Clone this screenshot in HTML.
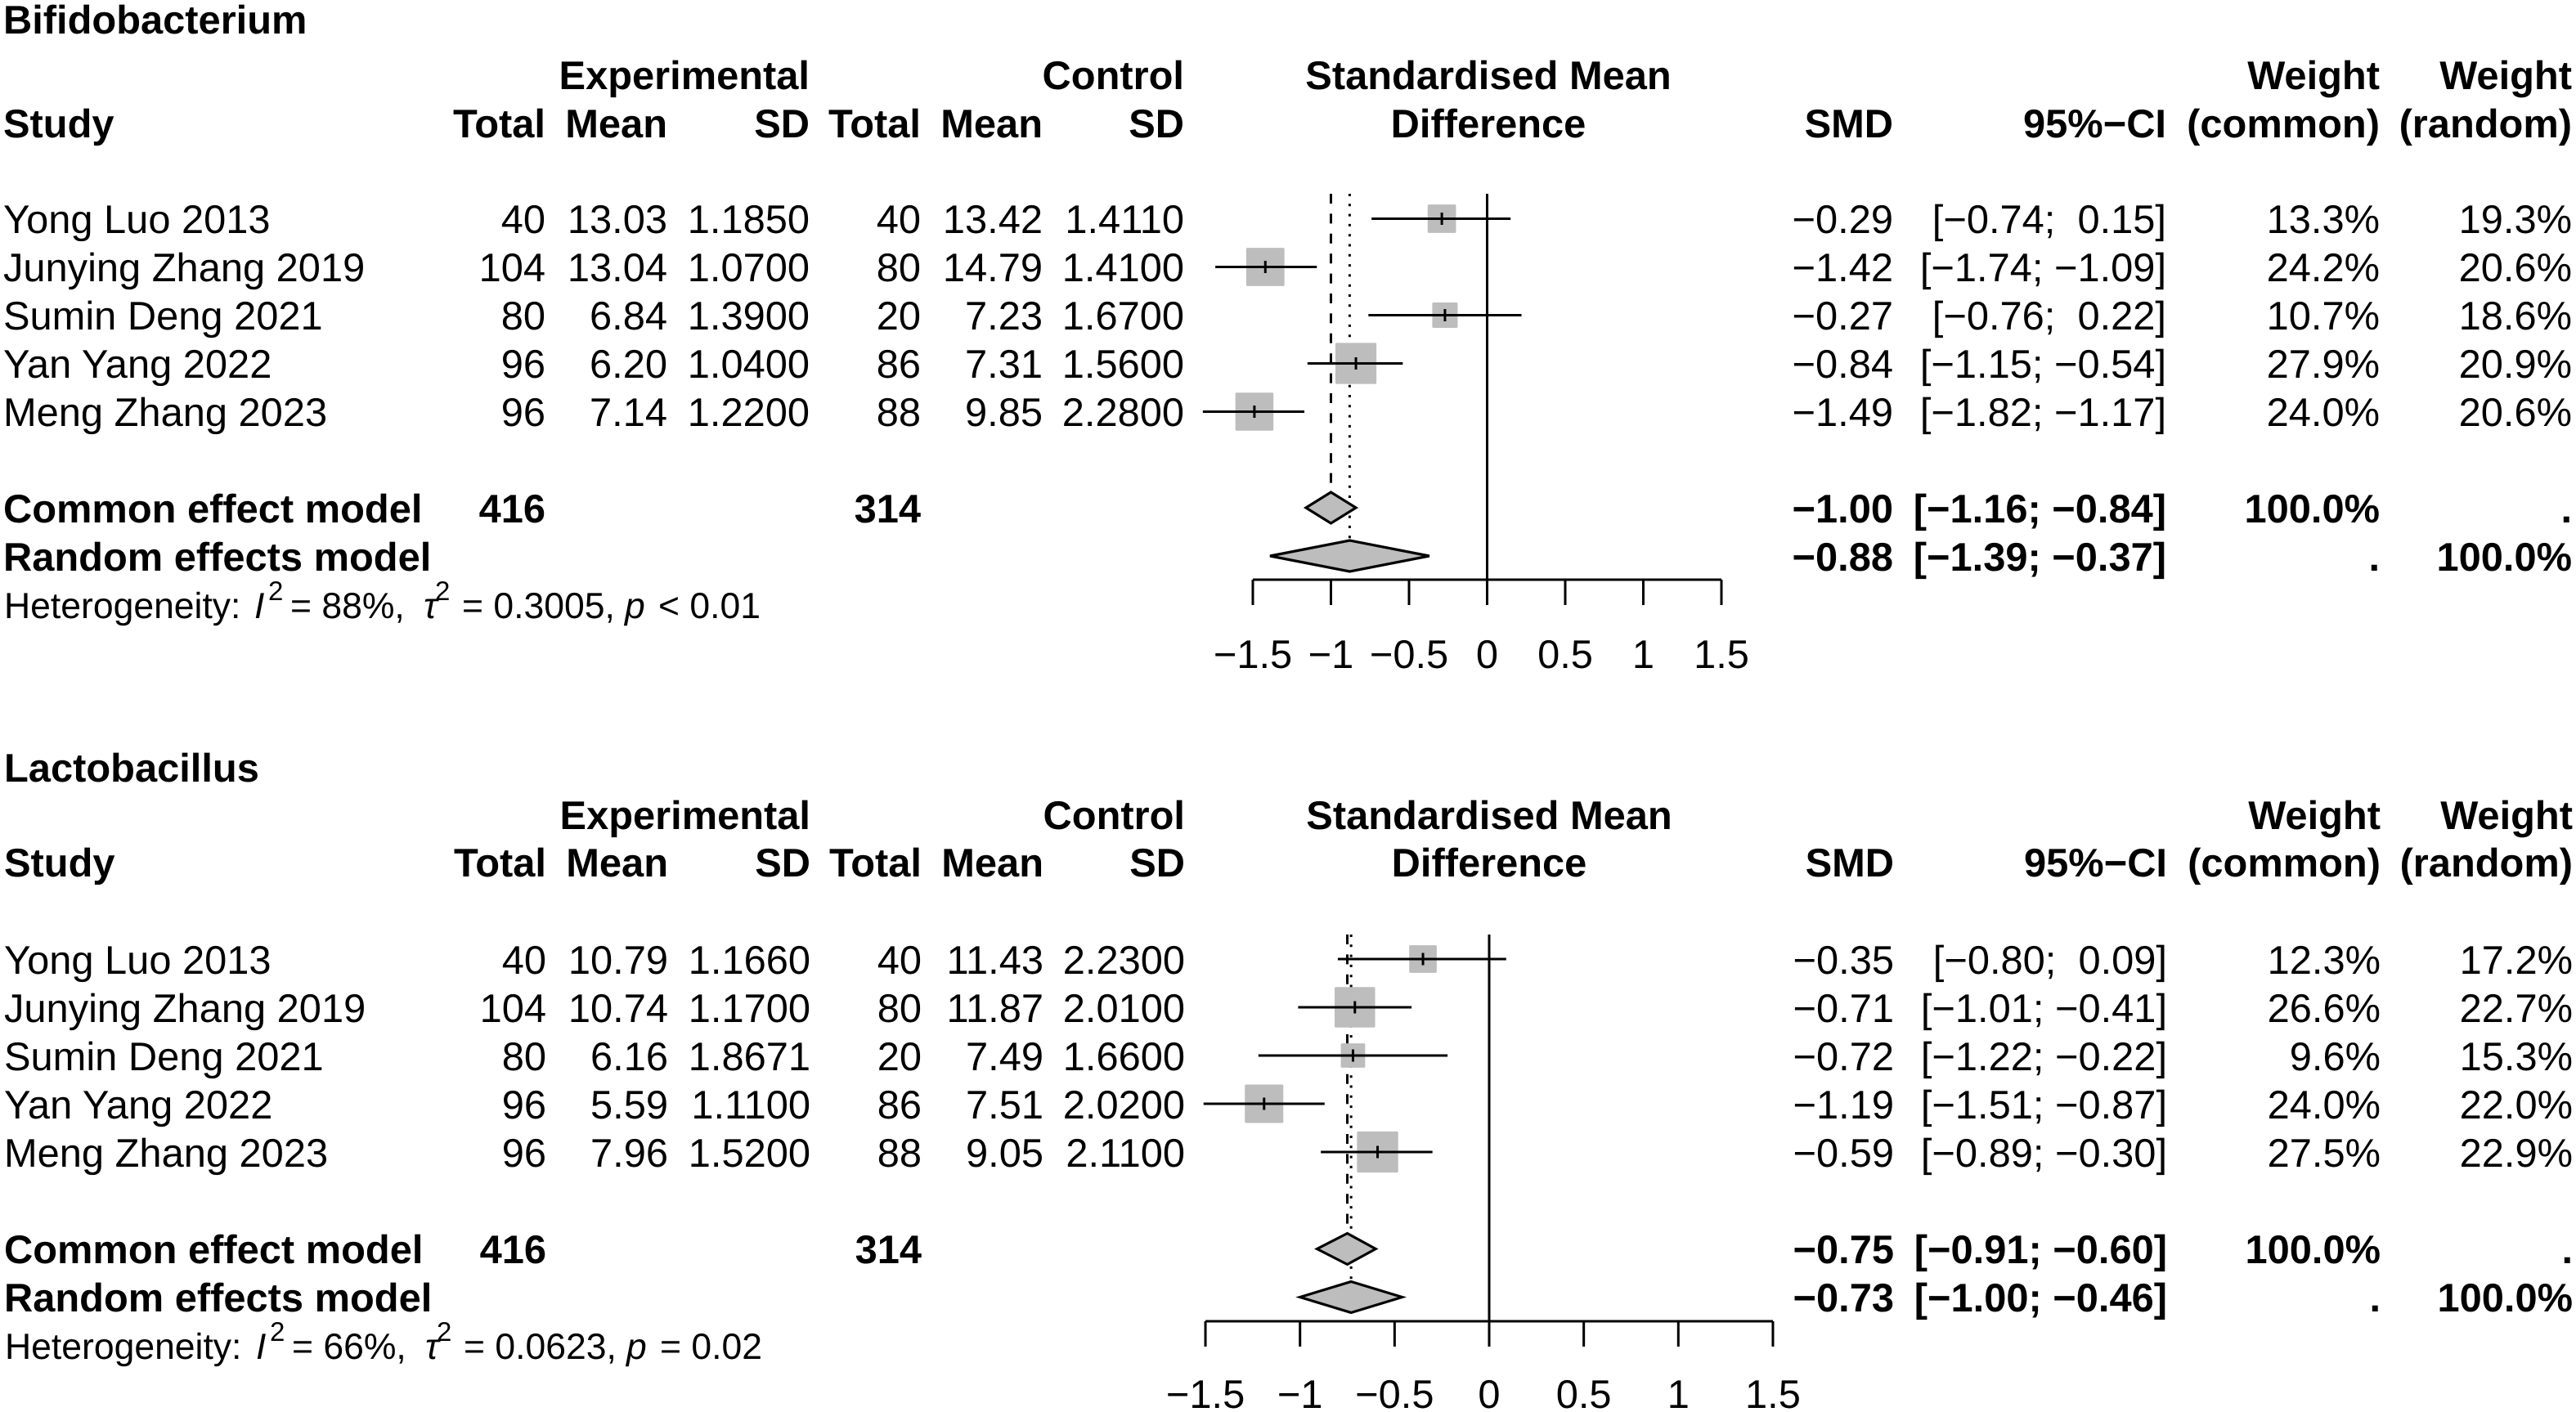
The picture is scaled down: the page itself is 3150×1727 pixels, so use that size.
<!DOCTYPE html>
<html lang="en">
<head>
<meta charset="utf-8">
<title>Forest plots: Bifidobacterium and Lactobacillus</title>
<style>
html,body{margin:0;padding:0;background:#fff;}
svg{display:block;}
text{font-family:"Liberation Sans",Arial,sans-serif;font-size:48.8px;fill:#000;text-rendering:geometricPrecision;white-space:pre;}
.b{font-weight:bold;}
.e{text-anchor:end;}
.m{text-anchor:middle;}
.h{font-size:44.5px;}
.s{font-size:33px;}
.i{font-style:italic;}
</style>
</head>
<body>
<svg id="chart" xmlns="http://www.w3.org/2000/svg" width="3150" height="1727" viewBox="0 0 3150 1727">
<rect x="0" y="0" width="3150" height="1727" fill="#fff"/>

<g id="marks-bifido"></g>
<g id="marks-lacto"></g>

<g>
<text class="b" x="4" y="41">Bifidobacterium</text>
<g transform="translate(0,109)">
<text class="b e" x="990">Experimental</text>
<text class="b e" x="1448">Control</text>
<text class="b m" x="1820">Standardised Mean</text>
<text class="b e" x="2910">Weight</text>
<text class="b e" x="3145">Weight</text>
</g>
<g transform="translate(0,168)">
<text class="b" x="4">Study</text>
<text class="b e" x="667">Total</text>
<text class="b e" x="816">Mean</text>
<text class="b e" x="990">SD</text>
<text class="b e" x="1126">Total</text>
<text class="b e" x="1275">Mean</text>
<text class="b e" x="1448">SD</text>
<text class="b m" x="1820">Difference</text>
<text class="b e" x="2315">SMD</text>
<text class="b e" x="2649">95%−CI</text>
<text class="b e" x="2910">(common)</text>
<text class="b e" x="3145">(random)</text>
</g>
<g transform="translate(0,285)">
<text x="4">Yong Luo 2013</text>
<text class="e" x="667">40</text>
<text class="e" x="816">13.03</text>
<text class="e" x="990">1.1850</text>
<text class="e" x="1126">40</text>
<text class="e" x="1275">13.42</text>
<text class="e" x="1448">1.4110</text>
<text class="e" x="2315">−0.29</text>
<text class="e" x="2649">[−0.74;  0.15]</text>
<text class="e" x="2910">13.3%</text>
<text class="e" x="3145">19.3%</text>
</g>
<g transform="translate(0,344)">
<text x="4">Junying Zhang 2019</text>
<text class="e" x="667">104</text>
<text class="e" x="816">13.04</text>
<text class="e" x="990">1.0700</text>
<text class="e" x="1126">80</text>
<text class="e" x="1275">14.79</text>
<text class="e" x="1448">1.4100</text>
<text class="e" x="2315">−1.42</text>
<text class="e" x="2649">[−1.74; −1.09]</text>
<text class="e" x="2910">24.2%</text>
<text class="e" x="3145">20.6%</text>
</g>
<g transform="translate(0,403)">
<text x="4">Sumin Deng 2021</text>
<text class="e" x="667">80</text>
<text class="e" x="816">6.84</text>
<text class="e" x="990">1.3900</text>
<text class="e" x="1126">20</text>
<text class="e" x="1275">7.23</text>
<text class="e" x="1448">1.6700</text>
<text class="e" x="2315">−0.27</text>
<text class="e" x="2649">[−0.76;  0.22]</text>
<text class="e" x="2910">10.7%</text>
<text class="e" x="3145">18.6%</text>
</g>
<g transform="translate(0,462)">
<text x="4">Yan Yang 2022</text>
<text class="e" x="667">96</text>
<text class="e" x="816">6.20</text>
<text class="e" x="990">1.0400</text>
<text class="e" x="1126">86</text>
<text class="e" x="1275">7.31</text>
<text class="e" x="1448">1.5600</text>
<text class="e" x="2315">−0.84</text>
<text class="e" x="2649">[−1.15; −0.54]</text>
<text class="e" x="2910">27.9%</text>
<text class="e" x="3145">20.9%</text>
</g>
<g transform="translate(0,521)">
<text x="4">Meng Zhang 2023</text>
<text class="e" x="667">96</text>
<text class="e" x="816">7.14</text>
<text class="e" x="990">1.2200</text>
<text class="e" x="1126">88</text>
<text class="e" x="1275">9.85</text>
<text class="e" x="1448">2.2800</text>
<text class="e" x="2315">−1.49</text>
<text class="e" x="2649">[−1.82; −1.17]</text>
<text class="e" x="2910">24.0%</text>
<text class="e" x="3145">20.6%</text>
</g>
<g transform="translate(0,639)">
<text class="b" x="4">Common effect model</text>
<text class="b e" x="667">416</text>
<text class="b e" x="1126">314</text>
<text class="b e" x="2315">−1.00</text>
<text class="b e" x="2649">[−1.16; −0.84]</text>
<text class="b e" x="2910">100.0%</text>
<text class="b e" x="3145">.</text>
</g>
<g transform="translate(0,698)">
<text class="b" x="4">Random effects model</text>
<text class="b e" x="2315">−0.88</text>
<text class="b e" x="2649">[−1.39; −0.37]</text>
<text class="b e" x="2910">.</text>
<text class="b e" x="3145">100.0%</text>
</g>
<g transform="translate(0,756)">
<text class="h" x="5">Heterogeneity:</text>
<text class="h i" x="311">I</text>
<text class="s" x="328" y="-22">2</text>
<text class="h" x="355">= 88%,</text>
<text class="h i" x="518">τ</text>
<text class="s" x="532" y="-22">2</text>
<text class="h" x="565">= 0.3005,</text>
<text class="h i" x="764">p</text>
<text class="h" x="805">&lt; 0.01</text>
</g>
</g>

<g transform="translate(1,0)">
<text class="b" x="4" y="956">Lactobacillus</text>
<g transform="translate(0,1014)">
<text class="b e" x="990">Experimental</text>
<text class="b e" x="1448">Control</text>
<text class="b m" x="1820">Standardised Mean</text>
<text class="b e" x="2910">Weight</text>
<text class="b e" x="3145">Weight</text>
</g>
<g transform="translate(0,1072)">
<text class="b" x="4">Study</text>
<text class="b e" x="667">Total</text>
<text class="b e" x="816">Mean</text>
<text class="b e" x="990">SD</text>
<text class="b e" x="1126">Total</text>
<text class="b e" x="1275">Mean</text>
<text class="b e" x="1448">SD</text>
<text class="b m" x="1820">Difference</text>
<text class="b e" x="2315">SMD</text>
<text class="b e" x="2649">95%−CI</text>
<text class="b e" x="2910">(common)</text>
<text class="b e" x="3145">(random)</text>
</g>
<g transform="translate(0,1191)">
<text x="4">Yong Luo 2013</text>
<text class="e" x="667">40</text>
<text class="e" x="816">10.79</text>
<text class="e" x="990">1.1660</text>
<text class="e" x="1126">40</text>
<text class="e" x="1275">11.43</text>
<text class="e" x="1448">2.2300</text>
<text class="e" x="2315">−0.35</text>
<text class="e" x="2649">[−0.80;  0.09]</text>
<text class="e" x="2910">12.3%</text>
<text class="e" x="3145">17.2%</text>
</g>
<g transform="translate(0,1250)">
<text x="4">Junying Zhang 2019</text>
<text class="e" x="667">104</text>
<text class="e" x="816">10.74</text>
<text class="e" x="990">1.1700</text>
<text class="e" x="1126">80</text>
<text class="e" x="1275">11.87</text>
<text class="e" x="1448">2.0100</text>
<text class="e" x="2315">−0.71</text>
<text class="e" x="2649">[−1.01; −0.41]</text>
<text class="e" x="2910">26.6%</text>
<text class="e" x="3145">22.7%</text>
</g>
<g transform="translate(0,1309)">
<text x="4">Sumin Deng 2021</text>
<text class="e" x="667">80</text>
<text class="e" x="816">6.16</text>
<text class="e" x="990">1.8671</text>
<text class="e" x="1126">20</text>
<text class="e" x="1275">7.49</text>
<text class="e" x="1448">1.6600</text>
<text class="e" x="2315">−0.72</text>
<text class="e" x="2649">[−1.22; −0.22]</text>
<text class="e" x="2910">9.6%</text>
<text class="e" x="3145">15.3%</text>
</g>
<g transform="translate(0,1368)">
<text x="4">Yan Yang 2022</text>
<text class="e" x="667">96</text>
<text class="e" x="816">5.59</text>
<text class="e" x="990">1.1100</text>
<text class="e" x="1126">86</text>
<text class="e" x="1275">7.51</text>
<text class="e" x="1448">2.0200</text>
<text class="e" x="2315">−1.19</text>
<text class="e" x="2649">[−1.51; −0.87]</text>
<text class="e" x="2910">24.0%</text>
<text class="e" x="3145">22.0%</text>
</g>
<g transform="translate(0,1427)">
<text x="4">Meng Zhang 2023</text>
<text class="e" x="667">96</text>
<text class="e" x="816">7.96</text>
<text class="e" x="990">1.5200</text>
<text class="e" x="1126">88</text>
<text class="e" x="1275">9.05</text>
<text class="e" x="1448">2.1100</text>
<text class="e" x="2315">−0.59</text>
<text class="e" x="2649">[−0.89; −0.30]</text>
<text class="e" x="2910">27.5%</text>
<text class="e" x="3145">22.9%</text>
</g>
<g transform="translate(0,1545)">
<text class="b" x="4">Common effect model</text>
<text class="b e" x="667">416</text>
<text class="b e" x="1126">314</text>
<text class="b e" x="2315">−0.75</text>
<text class="b e" x="2649">[−0.91; −0.60]</text>
<text class="b e" x="2910">100.0%</text>
<text class="b e" x="3145">.</text>
</g>
<g transform="translate(0,1604)">
<text class="b" x="4">Random effects model</text>
<text class="b e" x="2315">−0.73</text>
<text class="b e" x="2649">[−1.00; −0.46]</text>
<text class="b e" x="2910">.</text>
<text class="b e" x="3145">100.0%</text>
</g>
<g transform="translate(0,1662)">
<text class="h" x="5">Heterogeneity:</text>
<text class="h i" x="312">I</text>
<text class="s" x="329" y="-22">2</text>
<text class="h" x="356">= 66%,</text>
<text class="h i" x="519">τ</text>
<text class="s" x="533" y="-22">2</text>
<text class="h" x="566">= 0.0623,</text>
<text class="h i" x="765">p</text>
<text class="h" x="806">= 0.02</text>
</g>
</g>
</svg>

<script>
// Data: study categories and tick labels
const studies = ["Yong Luo 2013", "Junying Zhang 2019", "Sumin Deng 2021", "Yan Yang 2022", "Meng Zhang 2023"];
const tickValues = [-1.5, -1, -0.5, 0, 0.5, 1, 1.5];
const tickLabels = ["−1.5", "−1", "−0.5", "0", "0.5", "1", "1.5"];

// Bifidobacterium series
const bifidoSmd = [-0.29, -1.42, -0.27, -0.84, -1.49];
const bifidoLower = [-0.74, -1.74, -0.76, -1.15, -1.82];
const bifidoUpper = [0.15, -1.09, 0.22, -0.54, -1.17];
const bifidoWeight = [13.3, 24.2, 10.7, 27.9, 24.0];
const bifidoCommon = [-1.00, -1.16, -0.84];
const bifidoRandom = [-0.88, -1.39, -0.37];

// Lactobacillus series
const lactoSmd = [-0.35, -0.71, -0.72, -1.19, -0.59];
const lactoLower = [-0.80, -1.01, -1.22, -1.51, -0.89];
const lactoUpper = [0.09, -0.41, -0.22, -0.87, -0.30];
const lactoWeight = [12.3, 26.6, 9.6, 24.0, 27.5];
const lactoCommon = [-0.75, -0.91, -0.60];
const lactoRandom = [-0.73, -1.00, -0.46];

const NS = "http://www.w3.org/2000/svg";

function makeEl(parent, tag, attrs) {
  const el = document.createElementNS(NS, tag);
  for (const k in attrs) el.setAttribute(k, attrs[k]);
  parent.appendChild(el);
  return el;
}

function drawForest(g, p, smd, lower, upper, weight, common, random) {
  const xScale = v => p.zeroX + v * p.unit;
  const rowY = i => p.firstRowY + i * p.rowStep;
  const stroke = {stroke: "#000", "stroke-width": 3, fill: "none"};

  const dash = makeEl(g, "line", Object.assign({x1: xScale(common[0]), x2: xScale(common[0]), y1: p.topY, y2: p.commonY - 19, "stroke-dasharray": "12 12.4"}, stroke));
  
  

  const dots = makeEl(g, "line", Object.assign({x1: xScale(random[0]), x2: xScale(random[0]), y1: p.topY, y2: p.randomY - 19, "stroke-dasharray": "3 9.3"}, stroke));
  
  

  const zero = makeEl(g, "line", Object.assign({x1: xScale(0), x2: xScale(0), y1: p.topY, y2: p.axisY}, stroke));
  
  

  studies.forEach((name, i) => {
    const size = p.boxFactor * Math.sqrt(weight[i]);
    const y = rowY(i);
    const box = makeEl(g, "rect", {x: xScale(smd[i]) - size / 2, y: y - size / 2, width: size, height: size, rx: 1.5, fill: "#bdbdbd"});
    
    

    const ci = makeEl(g, "line", Object.assign({x1: xScale(lower[i]), x2: xScale(upper[i]), y1: y, y2: y}, stroke));
    
    

    const point = makeEl(g, "line", Object.assign({x1: xScale(smd[i]), x2: xScale(smd[i]), y1: y - 7.5, y2: y + 7.5}, stroke));
    
    
  });

  const diamondPoints = (vals, y) => [
    [xScale(vals[1]), y], [xScale(vals[0]), y - 19], [xScale(vals[2]), y], [xScale(vals[0]), y + 19]
  ].map(q => q.join(",")).join(" ");

  const d1 = makeEl(g, "polygon", {points: diamondPoints(common, p.commonY), fill: "#bdbdbd", stroke: "#000", "stroke-width": 3.2});
  
  

  const d2 = makeEl(g, "polygon", {points: diamondPoints(random, p.randomY), fill: "#bdbdbd", stroke: "#000", "stroke-width": 3.2});
  
  

  const axis = makeEl(g, "line", Object.assign({x1: xScale(tickValues[0]), x2: xScale(tickValues[tickValues.length - 1]), y1: p.axisY, y2: p.axisY}, stroke));
  
  

  tickValues.forEach((v, i) => {
    const tick = makeEl(g, "line", Object.assign({x1: xScale(v), x2: xScale(v), y1: p.axisY, y2: p.axisY + 31}, stroke));
    
    

    const label = makeEl(g, "text", {x: xScale(v), y: p.tickLabelY, class: "m"});
    label.textContent = tickLabels[i];
    
    
  });
}

drawForest(document.getElementById("marks-bifido"),
  {zeroX: 1818.5, unit: 191, topY: 237, firstRowY: 267.5, rowStep: 59, commonY: 621, randomY: 680, axisY: 709, tickLabelY: 817, boxFactor: 9.5},
  bifidoSmd, bifidoLower, bifidoUpper, bifidoWeight, bifidoCommon, bifidoRandom);

drawForest(document.getElementById("marks-lacto"),
  {zeroX: 1821, unit: 231.3, topY: 1143, firstRowY: 1173, rowStep: 59, commonY: 1527.5, randomY: 1586.5, axisY: 1616, tickLabelY: 1722, boxFactor: 9.6},
  lactoSmd, lactoLower, lactoUpper, lactoWeight, lactoCommon, lactoRandom);
</script>
</body>
</html>
